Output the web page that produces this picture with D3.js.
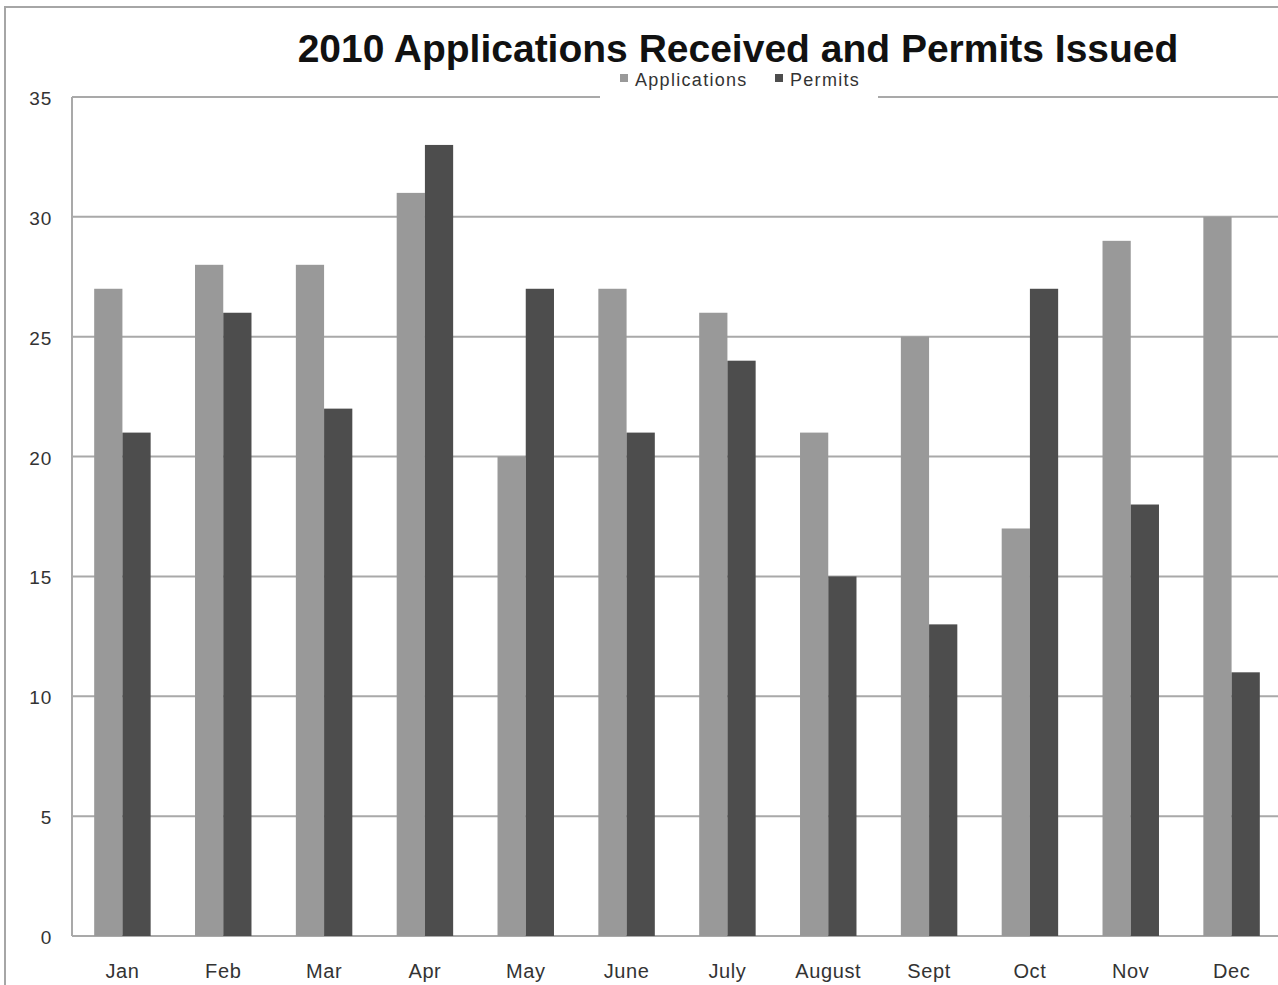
<!DOCTYPE html>
<html>
<head>
<meta charset="utf-8">
<script src="https://cdnjs.cloudflare.com/ajax/libs/d3/7.8.5/d3.min.js"></script>
<style>
  body { margin: 0; background: #fff; }
  svg { display: block; font-family: "Liberation Sans", Arial, sans-serif; }
</style>
</head>
<body>
<svg id="chart" width="1278" height="985"></svg>
<script>
var months = ['Jan', 'Feb', 'Mar', 'Apr', 'May', 'June', 'July', 'August', 'Sept', 'Oct', 'Nov', 'Dec'];
var applications = [27, 28, 28, 31, 20, 27, 26, 21, 25, 17, 29, 30];
var permits = [21, 26, 22, 33, 27, 21, 24, 15, 13, 27, 18, 11];
var seriesNames = ['Applications', 'Permits'];
var seriesColors = ['#999999', '#4d4d4d'];
var yTicks = [0, 5, 10, 15, 20, 25, 30, 35];

var svg = d3.select('#chart');
var plotLeft = 72, plotRight = 1282, plotTop = 97, plotBottom = 936;

var x = d3.scaleBand().domain(months).range([plotLeft, plotRight])
  .paddingInner(0.44).paddingOuter(0.22);
var xs = d3.scaleBand().domain(seriesNames).range([0, x.bandwidth()]);
var y = d3.scaleLinear().domain([0, 35]).range([plotBottom, plotTop]);

// outer frame
svg.append('path')
  .attr('d', 'M5,985 L5,7 L1278,7')
  .attr('fill', 'none').attr('stroke', '#a6a6a6').attr('stroke-width', 2);

// gridlines
svg.append('g').selectAll('line').data(yTicks).join('line')
  .attr('x1', plotLeft).attr('x2', 1278)
  .attr('y1', function(d){ return y(d); }).attr('y2', function(d){ return y(d); })
  .attr('stroke', '#a9a9a9').attr('stroke-width', 2);

// left axis line
svg.append('line').attr('x1', plotLeft).attr('x2', plotLeft).attr('y1', plotTop).attr('y2', plotBottom)
  .attr('stroke', '#a9a9a9').attr('stroke-width', 2);

// y labels
svg.append('g').selectAll('text').data(yTicks).join('text')
  .attr('x', 52).attr('y', function(d){ return y(d) + 8; })
  .attr('text-anchor', 'end').attr('font-size', 19).attr('letter-spacing', 0.8).attr('fill', '#333')
  .text(function(d){ return d; });

// bars
var rows = months.map(function(m, i){ return { month: m, values: [applications[i], permits[i]] }; });
var groups = svg.append('g').selectAll('g').data(rows).join('g')
  .attr('transform', function(d){ return 'translate(' + x(d.month) + ',0)'; });
groups.selectAll('rect').data(function(d){ return d.values.map(function(v, j){ return { name: seriesNames[j], v: v, c: seriesColors[j] }; }); })
  .join('rect')
  .attr('x', function(d){ return xs(d.name); })
  .attr('width', xs.bandwidth())
  .attr('y', function(d){ return y(d.v); })
  .attr('height', function(d){ return plotBottom - y(d.v); })
  .attr('fill', function(d){ return d.c; });

// x labels
svg.append('g').selectAll('text').data(months).join('text')
  .attr('x', function(d){ return x(d) + x.bandwidth() / 2; })
  .attr('y', 978)
  .attr('text-anchor', 'middle').attr('font-size', 20).attr('letter-spacing', 0.6).attr('fill', '#333')
  .text(function(d){ return d; });

// title
svg.append('text')
  .attr('x', 738).attr('y', 62)
  .attr('text-anchor', 'middle').attr('font-size', 39).attr('font-weight', 'bold')
  .attr('fill', '#111')
  .text('2010 Applications Received and Permits Issued');

// legend
svg.append('rect').attr('x', 600).attr('y', 70).attr('width', 278).attr('height', 32).attr('fill', '#fff');
var legendX = [620, 775];
var leg = svg.append('g').selectAll('g').data(seriesNames).join('g')
  .attr('transform', function(d, i){ return 'translate(' + legendX[i] + ',0)'; });
leg.append('rect').attr('x', 0).attr('y', 74).attr('width', 8).attr('height', 8)
  .attr('fill', function(d, i){ return seriesColors[i]; });
leg.append('text').attr('x', 15).attr('y', 86).attr('font-size', 18).attr('letter-spacing', 1.3).attr('fill', '#333')
  .text(function(d){ return d; });
</script>
</body>
</html>
